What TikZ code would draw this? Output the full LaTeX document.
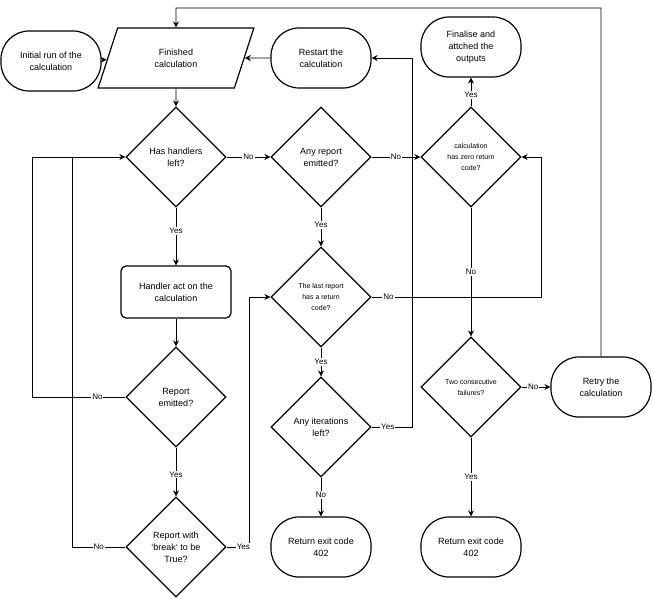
\documentclass[tikz,border=0pt]{standalone}
\usepackage{fontspec}
\setmainfont{Liberation Sans}
\usetikzlibrary{shapes.geometric,arrows.meta}
\tikzset{
  term/.style={draw,line width=1.2pt,rounded corners=28pt,minimum width=100pt,minimum height=60pt,align=center,font=\fontsize{9}{12}\selectfont},
  proc/.style={draw,line width=1.2pt,rounded corners=5pt,minimum width=110pt,minimum height=52pt,align=center,font=\fontsize{9}{12}\selectfont},
  dec/.style={draw,line width=1.2pt,diamond,shape aspect=1,inner sep=0pt,minimum width=100pt,minimum height=100pt,align=center,font=\fontsize{9}{12}\selectfont},
  io/.style={draw,line width=1.2pt,trapezium,trapezium left angle=72,trapezium right angle=108,minimum width=117pt,minimum height=60pt,align=center,font=\fontsize{9}{12}\selectfont},
  flow/.style={line width=0.8pt,-{Stealth[length=6pt,width=6pt]}},
  lbl/.style={fill=white,inner sep=1pt,font=\fontsize{8}{9}\selectfont}
}
\begin{document}
\begin{tikzpicture}[x=1pt,y=-1pt]
\useasboundingbox (0,0) rectangle (653,599);
% Knoten
\node[term] (init) at (51,61) {Initial run of the\\calculation};
\node[io] (fin) at (176,58) {Finished\\calculation};
\node[term] (restart) at (321,58) {Restart the\\calculation};
\node[term] (final) at (471,47) {Finalise and\\attched the\\outputs};
\node[dec] (has) at (176,157) {Has handlers\\left?};
\node[dec] (anyrep) at (321,157) {Any report\\emitted?};
\node[dec,font=\fontsize{7}{11}\selectfont] (zero) at (471,157) {calculation\\has zero return\\code?};
\node[proc] (handler) at (176,292) {Handler act on the\\calculation};
\node[dec,font=\fontsize{7}{11}\selectfont] (last) at (321,297) {The last report\\has a return\\code?};
\node[dec] (rep) at (176,397) {Report\\emitted?};
\node[dec,font=\fontsize{7}{11}\selectfont] (two) at (471,387) {Two consecutive\\failures?};
\node[term] (retry) at (601,387) {Retry the\\calculation};
\node[dec] (iter) at (321,427) {Any iterations\\left?};
\node[dec] (brk) at (176,547) {Report with\\`break` to be\\True?};
\node[term] (ret1) at (321,547) {Return exit code\\402};
\node[term] (ret2) at (471,547) {Return exit code\\402};
% Pfeile
\draw[flow] (init) -- (fin);
\draw[flow] (restart) -- (fin);
\draw[flow] (fin) -- (has);
\draw[flow] (has) -- node[lbl,pos=0.4] {Yes} (handler);
\draw[flow] (has) -- node[lbl] {No} (anyrep);
\draw[flow] (anyrep) -- node[lbl] {No} (zero);
\draw[flow] (anyrep) -- node[lbl,pos=0.45] {Yes} (last);
\draw[flow] (handler) -- (rep);
\draw[flow] (rep) -- node[lbl,pos=0.55] {Yes} (brk);
\draw[flow] (rep.west) -- node[lbl,pos=0.3] {No} (32,397) -- (32,157) -- (has.west);
\draw[line width=0.8pt] (brk.west) -- node[lbl,pos=0.5] {No} (72,547) -- (72,157);
\draw[flow] (brk.east) -- node[lbl,pos=0.75] {Yes} (249,547) -- (249,297) -- (last.west);
\draw[flow] (last.east) -- node[lbl,pos=0.1] {No} (541,297) -- (541,157) -- (zero.east);
\draw[flow] (last) -- node[lbl] {Yes} (iter);
\draw[flow] (iter.east) -- node[lbl,pos=0.4] {Yes} (412,427) -- (412,58) -- (restart.east);
\draw[flow] (iter) -- node[lbl,pos=0.45] {No} (ret1);
\draw[flow] (zero) -- node[lbl,pos=0.4] {Yes} (final);
\draw[flow] (zero) -- node[lbl,pos=0.5] {No} (two);
\draw[flow] (two) -- node[lbl,pos=0.4] {No} (retry);
\draw[flow] (two) -- node[lbl,pos=0.5] {Yes} (ret2);
\draw[flow] (retry.north) -- (601,8) -- (176,8) -- (fin.north);
\end{tikzpicture}
\end{document}
